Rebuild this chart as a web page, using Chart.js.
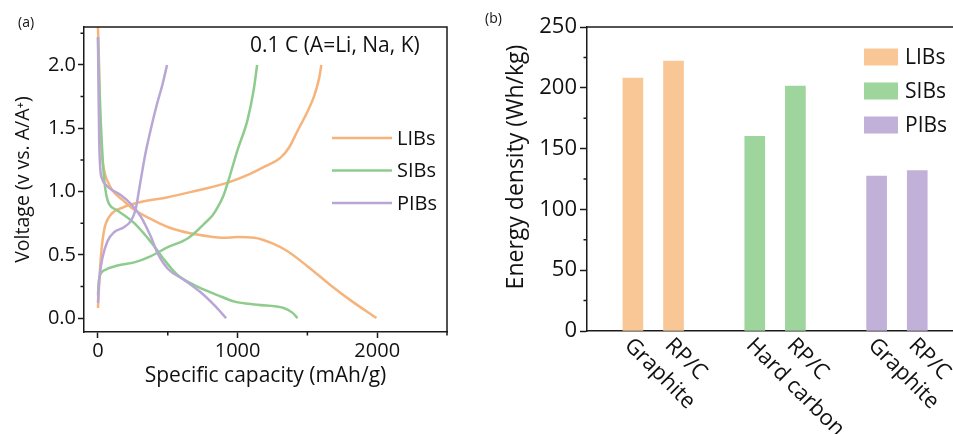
<!DOCTYPE html>
<html>
<head>
<meta charset="utf-8">
<script src="https://cdn.jsdelivr.net/npm/chart.js@4.4.1/dist/chart.umd.min.js"></script>
<style>
  html, body { margin: 0; padding: 0; background: #fff; overflow: hidden; }
  .panel { position: absolute; top: 0; height: 434px; }
  #panelA { left: 0; width: 480px; }
  #panelB { left: 480px; width: 473px; }
  .tag { position: absolute; font: 14px 'Open Sans', sans-serif; color: #111; }
</style>
</head>
<body>
<div class="panel" id="panelA"><canvas id="chartA"></canvas></div>
<div class="panel" id="panelB"><canvas id="chartB"></canvas></div>
<div class="tag" style="left:18px;top:12px">(a)</div>
<div class="tag" style="left:485px;top:8px">(b)</div>
<script>
const batteryTypes = ['LIBs', 'SIBs', 'PIBs'];

// galvanostatic profiles at 0.1 C, [capacity mAh/g, voltage V]
const libDischarge = [[0, 2.3], [8, 2.0], [15, 1.6], [28, 1.3], [50, 1.14], [78, 1.06], [110, 1.0], [180, 0.93], [255, 0.86], [420, 0.76], [500, 0.72], [660, 0.67], [800, 0.645], [900, 0.635], [1000, 0.64], [1120, 0.635], [1250, 0.59], [1355, 0.53], [1500, 0.41], [1666, 0.26], [1810, 0.14], [1995, 0]];
const libCharge = [[0, 0.08], [8, 0.25], [22, 0.5], [45, 0.7], [80, 0.8], [180, 0.875], [300, 0.915], [500, 0.955], [660, 0.995], [900, 1.06], [1090, 1.14], [1200, 1.2], [1310, 1.27], [1370, 1.35], [1430, 1.48], [1500, 1.63], [1550, 1.76], [1585, 1.9], [1600, 2.0]];
const sibDischarge = [[0, 2.22], [8, 1.9], [20, 1.55], [33, 1.27], [45, 1.09], [60, 0.97], [80, 0.9], [140, 0.85], [260, 0.75], [380, 0.6], [475, 0.46], [570, 0.34], [690, 0.26], [860, 0.18], [980, 0.13], [1140, 0.105], [1330, 0.08], [1390, 0.045], [1430, 0]];
const sibCharge = [[0, 0.18], [5, 0.28], [20, 0.35], [50, 0.38], [140, 0.415], [260, 0.44], [380, 0.49], [500, 0.56], [600, 0.605], [650, 0.635], [700, 0.68], [760, 0.745], [820, 0.81], [860, 0.88], [900, 0.97], [930, 1.07], [1000, 1.33], [1070, 1.56], [1115, 1.8], [1140, 2.0]];
const pibDischarge = [[0, 2.22], [4, 1.8], [9, 1.4], [16, 1.19], [30, 1.1], [60, 1.05], [90, 1.02], [165, 0.97], [237, 0.9], [308, 0.8], [380, 0.64], [428, 0.51], [500, 0.39], [620, 0.3], [740, 0.2], [835, 0.1], [918, 0]];
const pibCharge = [[0, 0.12], [9, 0.3], [33, 0.48], [69, 0.61], [117, 0.68], [189, 0.72], [237, 0.77], [270, 0.86], [300, 1.05], [340, 1.3], [380, 1.5], [420, 1.68], [463, 1.85], [495, 2.0]];

const capacityTicks = [0, 1000, 2000];
const capacityMinor = [500, 1500, 2500];
const voltageTicks = [0, 0.5, 1.0, 1.5, 2.0];
const voltageMinor = [0.25, 0.75, 1.25, 1.75, 2.25];

// energy density per battery type (Wh/kg)
const anodes = [['Graphite', 'RP/C'], ['Hard carbon', 'RP/C'], ['Graphite', 'RP/C']];
const energyDensity = [[208, 222], [160, 201.5], [127.5, 132]];
const energyTicks = [0, 50, 100, 150, 200, 250];
const energyMinor = [25, 75, 125, 175, 225];

const lineColors = ['#F6B47C', '#8ECC8E', '#B9A6D6'];
const barColors = ['#F9C796', '#9DD59D', '#C1B0D7'];
const AXIS_COLOR = '#1a1a1a';
const FONT = "'Open Sans', sans-serif";

Chart.defaults.font.family = FONT;
Chart.defaults.color = '#111';

const minorTicks = {
  id: 'minorTicks',
  afterDraw(chart, args, opts) {
    const { ctx, chartArea } = chart;
    ctx.save();
    ctx.strokeStyle = AXIS_COLOR;
    ctx.lineWidth = 1.5;
    ctx.beginPath();
    (opts.x || []).forEach((value) => {
      const px = chart.scales.x.getPixelForValue(value);
      ctx.moveTo(px, chartArea.bottom);
      ctx.lineTo(px, chartArea.bottom + opts.length);
    });
    (opts.y || []).forEach((value) => {
      const py = chart.scales.y.getPixelForValue(value);
      ctx.moveTo(chartArea.left, py);
      ctx.lineTo(chartArea.left - opts.length, py);
    });
    ctx.stroke();
    ctx.restore();
  },
};

const frame = {
  id: 'frame',
  afterDraw(chart, args, opts) {
    const { ctx, chartArea } = chart;
    ctx.save();
    ctx.strokeStyle = AXIS_COLOR;
    ctx.lineWidth = 1.5;
    ctx.beginPath();
    ctx.moveTo(chartArea.left, chartArea.top);
    ctx.lineTo(chartArea.right, chartArea.top);
    if (opts.right) {
      ctx.lineTo(chartArea.right, chartArea.bottom);
    }
    ctx.stroke();
    ctx.restore();
  },
};

const lineLegend = {
  id: 'lineLegend',
  afterDraw(chart) {
    const { ctx } = chart;
    ctx.save();
    ctx.font = `20px ${FONT}`;
    ctx.textBaseline = 'middle';
    batteryTypes.forEach((name, i) => {
      const y = 138 + i * 32.5;
      ctx.strokeStyle = lineColors[i];
      ctx.lineWidth = 2.5;
      ctx.beginPath();
      ctx.moveTo(332, y);
      ctx.lineTo(392, y);
      ctx.stroke();
      ctx.fillStyle = '#111';
      ctx.fillText(name, 397, y + 1);
    });
    ctx.font = `21px ${FONT}`;
    ctx.fillText('0.1 C (A=Li, Na, K)', 250, 46);
    ctx.restore();
  },
};

const barLegendAndLabels = {
  id: 'barLegendAndLabels',
  afterDraw(chart) {
    const { ctx, chartArea } = chart;
    const xScale = chart.scales.x;
    ctx.save();
    ctx.fillStyle = '#111';
    ctx.font = `22px ${FONT}`;
    ctx.textBaseline = 'middle';
    anodes.forEach((names, g) => {
      names.forEach((name, j) => {
        const px = xScale.getPixelForValue(g * 3 + j);
        ctx.save();
        ctx.translate(px - 5, chartArea.bottom + 11);
        ctx.rotate(Math.PI / 4);
        ctx.textAlign = 'left';
        ctx.fillText(name, 0, 0);
        ctx.restore();
      });
    });
    ctx.font = `21px ${FONT}`;
    batteryTypes.forEach((name, i) => {
      const y = 57 + i * 34;
      ctx.fillStyle = barColors[i];
      ctx.fillRect(384, y - 8.5, 34, 17);
      ctx.fillStyle = '#111';
      ctx.fillText(name, 425, y + 1);
    });
    ctx.restore();
  },
};

const profileCurves = [[libDischarge, libCharge], [sibDischarge, sibCharge], [pibDischarge, pibCharge]];

new Chart(document.getElementById('chartA'), {
  type: 'line',
  data: {
    datasets: batteryTypes.flatMap((name, i) =>
      profileCurves[i].map((points) => ({
        label: name,
        data: points.map(([x, y]) => ({ x, y })),
        borderColor: lineColors[i],
        borderWidth: 2.5,
        pointRadius: 0,
        cubicInterpolationMode: 'monotone',
        fill: false,
        order: 2 - i,
      }))
    ),
  },
  options: {
    responsive: true,
    maintainAspectRatio: false,
    animation: false,
    layout: { padding: { top: 27, right: 33, left: 0, bottom: 0 } },
    scales: {
      x: {
        type: 'linear',
        min: -100,
        max: 2500,
        afterFit: (scale) => { scale.height = 102; },
        afterBuildTicks: (scale) => { scale.ticks = capacityTicks.map((value) => ({ value })); },
        ticks: { font: { size: 20 }, padding: 1, maxRotation: 0, callback: (value) => String(value) },
        grid: { drawOnChartArea: false, tickLength: 6, tickWidth: 1.5, tickColor: AXIS_COLOR },
        border: { color: AXIS_COLOR, width: 1.5 },
        title: { display: true, text: 'Specific capacity (mAh/g)', font: { size: 21 }, padding: { bottom: 45 } },
      },
      y: {
        type: 'linear',
        min: -0.11,
        max: 2.3,
        afterFit: (scale) => { scale.width = 84; },
        afterBuildTicks: (scale) => { scale.ticks = voltageTicks.map((value) => ({ value })); },
        ticks: { font: { size: 20 }, padding: 2, callback: (value) => value.toFixed(1) },
        grid: { drawOnChartArea: false, tickLength: 6, tickWidth: 1.5, tickColor: AXIS_COLOR },
        border: { color: AXIS_COLOR, width: 1.5 },
        title: { display: true, text: 'Voltage (v vs. A/A⁺)', font: { size: 19.5 }, padding: { top: 12 } },
      },
    },
    plugins: {
      legend: { display: false },
      tooltip: { enabled: false },
      minorTicks: { x: capacityMinor, y: voltageMinor, length: 3.5 },
      frame: { right: true },
    },
  },
  plugins: [minorTicks, frame, lineLegend],
});

new Chart(document.getElementById('chartB'), {
  type: 'bar',
  data: {
    datasets: batteryTypes.map((name, g) => ({
      label: name,
      data: energyDensity[g].map((value, j) => ({ x: g * 3 + j, y: value })),
      backgroundColor: barColors[g],
      barThickness: 20,
      grouped: false,
    })),
  },
  options: {
    responsive: true,
    maintainAspectRatio: false,
    animation: false,
    layout: { padding: { top: 27, right: 0, left: 0, bottom: 0 } },
    scales: {
      x: {
        type: 'linear',
        offset: false,
        min: -1.13,
        max: 7.88,
        afterFit: (scale) => { scale.height = 103; },
        ticks: { display: false },
        grid: { display: true, drawOnChartArea: false, drawTicks: false },
        border: { color: AXIS_COLOR, width: 1.5 },
      },
      y: {
        min: 0,
        max: 250,
        afterFit: (scale) => { scale.width = 107; },
        afterBuildTicks: (scale) => { scale.ticks = energyTicks.map((value) => ({ value })); },
        ticks: { font: { size: 22 }, padding: 3 },
        grid: { drawOnChartArea: false, tickLength: 7, tickWidth: 1.5, tickColor: AXIS_COLOR },
        border: { color: AXIS_COLOR, width: 1.5 },
        title: { display: true, text: '    Energy density (Wh/kg)', font: { size: 23 }, padding: { top: 23 } },
      },
    },
    plugins: {
      legend: { display: false },
      tooltip: { enabled: false },
      minorTicks: { y: energyMinor, length: 3.5 },
      frame: { right: false },
    },
  },
  plugins: [minorTicks, frame, barLegendAndLabels],
});
</script>
</body>
</html>
